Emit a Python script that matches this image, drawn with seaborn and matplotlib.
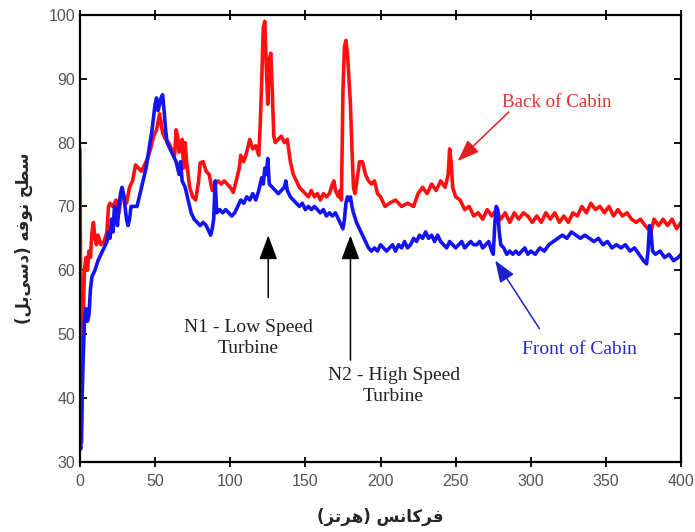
import matplotlib.pyplot as plt
import seaborn as sns

# back of cabin (red)
back_hz = [
    0, 0.5, 1, 2, 3, 4, 5, 6, 7, 8,
    9, 10, 11, 12, 14, 16, 18, 19, 20, 22,
    24, 26, 28, 30, 31, 33, 35, 37, 39, 41,
    43, 45, 47, 49, 51, 53, 55, 57, 59, 61,
    63, 64, 65, 66, 67, 68, 69, 70, 71, 72,
    73, 75, 77, 79, 80, 82, 84, 86, 88, 90,
    92, 94, 96, 98, 100, 102, 104, 106, 107, 109,
    111, 113, 115, 117, 119, 120, 121, 122, 123, 124,
    125, 126, 127, 128, 129, 130, 132, 134, 136, 138,
    140, 142, 144, 146, 148, 150, 152, 154, 156, 158,
    160, 162, 164, 166, 168, 169, 170, 172, 173, 174,
    175, 176, 177, 178, 179, 180, 181, 182, 183, 184,
    186, 188, 190, 192, 194, 196, 198, 200, 203, 206,
    210, 214, 218, 222, 225, 228, 231, 234, 237, 240,
    243, 245, 246, 247, 248, 250, 253, 256, 259, 262,
    265, 268, 271, 274, 277, 280, 283, 286, 289, 292,
    295, 298, 301, 304, 307, 310, 313, 316, 319, 322,
    325, 328, 331, 334, 337, 340, 343, 346, 349, 352,
    355, 358, 361, 364, 367, 370, 373, 376, 378, 380,
    382, 385, 388, 391, 394, 397, 400]
back_db = [
    79, 55, 33, 50, 60, 62, 60, 63, 62, 66,
    67.5, 65, 64, 65.5, 64, 64.5, 66, 70, 70.5, 70,
    71, 69, 72.5, 71, 70.5, 73, 74, 76.5, 76, 75.5,
    76.5, 77.5, 79, 81, 82, 84.5, 81.5, 80.5, 80, 79,
    78, 82, 81, 78.5, 79, 80.5, 76, 80, 77, 75,
    73, 71.5, 71, 74, 76.8, 77, 75.5, 75, 72.5, 73.5,
    74, 73.5, 74, 73.5, 73, 72.2, 74, 76, 78, 77,
    78.5, 80.5, 79, 79.5, 78, 83, 90, 98, 99, 92,
    86, 93, 94, 88, 81, 80, 80.5, 81, 80, 80.5,
    77, 75, 74, 73, 72.5, 72, 71.5, 72.5, 71.5, 72,
    71, 72, 71.5, 72, 73.5, 74, 72.5, 71.5, 72.5, 71,
    88, 95, 96, 94, 90, 86, 79, 73, 72, 73.5,
    77, 77, 75, 74, 73.5, 74, 72, 71.5, 70, 70.5,
    71, 70, 70.5, 70, 72, 73, 72, 73.5, 72.5, 74,
    73, 75, 79, 77, 73, 71.5, 71, 69.5, 70, 68.5,
    69, 68, 69.5, 68.5, 69.5, 68, 69, 67.5, 69, 68,
    69, 68.5, 67.5, 68.5, 67.5, 69, 68, 69, 67.5, 68.5,
    67.5, 69, 68.5, 70, 69, 70.5, 69.5, 70, 69, 70,
    68.5, 69.5, 68.5, 69, 68, 67.5, 68, 67, 66.5, 66,
    68, 67, 68, 67, 68, 66.5, 67.5]

# front of cabin (blue)
front_hz = [
    0, 0.5, 1, 2, 3, 4, 5, 6, 7, 8,
    10, 12, 14, 16, 18, 19, 20, 21, 22, 23,
    24, 25, 26, 27, 28, 29, 30, 31, 32, 33,
    34, 36, 38, 40, 42, 44, 46, 48, 50, 51,
    52, 53, 54, 55, 56, 57, 58, 60, 62, 64,
    66, 67, 68, 70, 72, 74, 76, 78, 80, 82,
    84, 86, 87, 88, 89, 90, 91, 93, 95, 97,
    99, 101, 103, 105, 107, 109, 111, 113, 115, 117,
    119, 121, 122, 123, 124, 125, 126, 128, 130, 132,
    134, 136, 137, 138, 140, 142, 144, 146, 148, 150,
    152, 154, 156, 158, 160, 162, 164, 166, 168, 170,
    172, 174, 175, 176, 177, 178, 179, 180, 181, 182,
    184, 186, 188, 190, 192, 194, 196, 198, 200, 202,
    204, 206, 208, 210, 212, 214, 216, 218, 220, 222,
    224, 226, 228, 230, 232, 234, 236, 238, 240, 242,
    244, 246, 248, 250, 252, 254, 256, 258, 260, 262,
    264, 266, 268, 270, 272, 274, 275, 276, 277, 278,
    279, 280, 282, 284, 286, 288, 290, 292, 294, 296,
    298, 300, 303, 306, 309, 312, 315, 318, 321, 324,
    327, 330, 333, 336, 339, 342, 345, 348, 351, 354,
    357, 360, 363, 366, 369, 372, 375, 377, 378, 379,
    380, 381, 383, 386, 389, 392, 395, 398, 400]
front_db = [
    33, 32, 36, 45, 52, 54, 52, 53, 57, 59,
    60, 61.5, 62.5, 63.5, 64.5, 66, 65, 68, 66, 70,
    69, 67, 70, 72, 73, 72, 70, 68, 67, 68,
    70, 70, 70, 72, 74, 76, 79, 82, 86, 87,
    85, 86, 87, 87.5, 85, 82, 80, 79, 78, 77,
    75, 77, 74, 73, 71, 69, 68, 67.5, 67, 67.5,
    67, 66, 65.5, 66.5, 68, 74, 69, 69.5, 69, 69.5,
    69, 68.5, 69, 70, 71, 70.5, 71.5, 71, 72, 71,
    72.5, 74.5, 73.5, 76, 75, 77.5, 73.5, 73, 72.5, 72,
    72.5, 73, 74, 72.5, 71.5, 71, 70.5, 70, 70.5, 69.5,
    70, 69.5, 70, 69.5, 69, 69.5, 68.5, 69, 68.5, 69,
    68, 67, 66.5, 68, 70.5, 71.5, 71, 71.5, 70, 69,
    67.5, 66.5, 65.5, 64.5, 63.5, 63, 63.5, 63, 64, 63.5,
    63, 63.5, 64, 63, 64, 63.5, 64.5, 63.5, 64, 65,
    64.5, 65.5, 65, 66, 65, 65.5, 64.5, 65.5, 64.5, 64,
    63.5, 64.5, 64, 63.5, 64, 64.5, 63.5, 64, 64.5, 64,
    64, 64.5, 63.5, 64, 64.5, 63, 62.5, 67, 70, 69.5,
    66, 64, 63.5, 62.5, 63, 62.5, 63, 62.5, 63, 63.5,
    62.5, 63, 62.5, 63.5, 63, 64, 64.5, 65, 65.5, 65,
    66, 65.5, 65, 65.5, 65, 64.5, 65, 64, 64.5, 63.5,
    64, 63.5, 64, 63, 63.5, 62.5, 61.5, 61, 63, 67,
    66, 63, 62.5, 63, 62, 62.5, 61.5, 62, 62.5]

x_ticks = [0, 50, 100, 150, 200, 250, 300, 350, 400]
y_ticks = [30, 40, 50, 60, 70, 80, 90, 100]

x_label = "فرکانس (هرتز)"
y_label = "سطح نوفه (دسی\u200cبل)"

# matplotlib has no arabic shaping, so pick presentation forms by hand
# (isolated, final, initial, medial)
FORMS = {
    "ا": ("\uFE8D", "\uFE8E", None, None),
    "ب": ("\uFE8F", "\uFE90", "\uFE91", "\uFE92"),
    "ت": ("\uFE95", "\uFE96", "\uFE97", "\uFE98"),
    "ح": ("\uFEA1", "\uFEA2", "\uFEA3", "\uFEA4"),
    "د": ("\uFEA9", "\uFEAA", None, None),
    "ر": ("\uFEAD", "\uFEAE", None, None),
    "ز": ("\uFEAF", "\uFEB0", None, None),
    "س": ("\uFEB1", "\uFEB2", "\uFEB3", "\uFEB4"),
    "ط": ("\uFEC1", "\uFEC2", "\uFEC3", "\uFEC4"),
    "ف": ("\uFED1", "\uFED2", "\uFED3", "\uFED4"),
    "ل": ("\uFEDD", "\uFEDE", "\uFEDF", "\uFEE0"),
    "ن": ("\uFEE5", "\uFEE6", "\uFEE7", "\uFEE8"),
    "ه": ("\uFEE9", "\uFEEA", "\uFEEB", "\uFEEC"),
    "و": ("\uFEED", "\uFEEE", None, None),
    "ک": ("\uFB8E", "\uFB8F", "\uFB90", "\uFB91"),
    "ی": ("\uFBFC", "\uFBFD", "\uFBFE", "\uFBFF"),
}


def shape_rtl(text):
    out = []
    for i, c in enumerate(text):
        if c not in FORMS:
            out.append(c)
            continue
        prev = text[i - 1] if i > 0 else None
        nxt = text[i + 1] if i + 1 < len(text) else None
        join_prev = prev in FORMS and FORMS[prev][2] is not None
        join_next = FORMS[c][2] is not None and nxt in FORMS
        iso, fin, ini, med = FORMS[c]
        if join_prev and join_next:
            out.append(med)
        elif join_prev:
            out.append(fin)
        elif join_next:
            out.append(ini)
        else:
            out.append(iso)
    vis = "".join(out).replace("\u200c", "")[::-1]
    return vis.translate(str.maketrans("()", ")("))


sns.set_style("ticks")
plt.rcParams["font.family"] = ["Liberation Sans", "DejaVu Sans"]

fig, ax = plt.subplots(figsize=(6.95, 5.32), dpi=100)
fig.subplots_adjust(left=0.115, right=0.98, bottom=0.132, top=0.972)

sns.lineplot(x=back_hz, y=back_db, ax=ax, color="#ff1010", lw=2.6,
             sort=False, estimator=None)
sns.lineplot(x=front_hz, y=front_db, ax=ax, color="#1414f0", lw=2.6,
             sort=False, estimator=None)

ax.set_xlim(0, 400)
ax.set_ylim(30, 100)
ax.set_xticks(x_ticks)
ax.set_yticks(y_ticks)
ax.tick_params(top=True, right=True, direction="in", length=5, width=1.3,
               labelsize=11.5, labelcolor="#555555", color="black")
ax.tick_params(axis="x", which="both", bottom=True, direction="inout",
               length=7, pad=5)
for s in ax.spines.values():
    s.set_linewidth(1.6)
    s.set_color("black")

ax.set_xlabel(shape_rtl(x_label), fontfamily="DejaVu Sans",
              fontweight="bold", fontsize=12, labelpad=14)
ax.set_ylabel(shape_rtl(y_label), fontfamily="DejaVu Sans",
              fontweight="bold", fontsize=12, labelpad=11)

serif = "Liberation Serif"
head = "-|>,head_length=0.75,head_width=0.28"

ax.annotate("", xy=(125.3, 65.9), xytext=(125.3, 55.3),
            arrowprops=dict(arrowstyle=head, mutation_scale=20, lw=1.1, color="black"))
ax.annotate("", xy=(180, 65.9), xytext=(180, 45.5),
            arrowprops=dict(arrowstyle=head, mutation_scale=20, lw=1.1, color="black"))
ax.annotate("", xy=(250, 76.8), xytext=(286.7, 85.1),
            arrowprops=dict(arrowstyle=head, mutation_scale=18, lw=1.1, color="#e02020"))
ax.annotate("", xy=(275.3, 61.9), xytext=(306.7, 50.5),
            arrowprops=dict(arrowstyle=head, mutation_scale=18, lw=1.1, color="#2020c8"))

ax.text(112, 49.4, "N1 - Low Speed\nTurbine", ha="center", va="center",
        fontfamily=serif, fontsize=14, color="#222222", linespacing=1.3)
ax.text(208.7, 41.9, "N2 - High Speed\nTurbine", ha="center", va="center",
        fontfamily=serif, fontsize=14, color="#222222", linespacing=1.3)
ax.text(317.3, 86.3, "Back of Cabin", ha="center", va="center",
        fontfamily=serif, fontsize=13.7, color="#e03030")
ax.text(332.3, 47.6, "Front of Cabin", ha="center", va="center",
        fontfamily=serif, fontsize=14, color="#2a2ac8")

fig.savefig("out.png", dpi=100)
